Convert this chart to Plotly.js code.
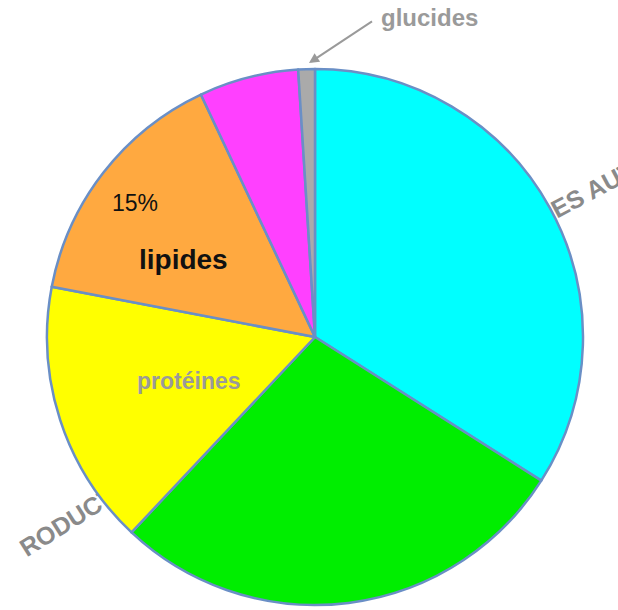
<!DOCTYPE html>
<html><head><meta charset="utf-8">
<script src="https://cdn.plot.ly/plotly-3.0.1.min.js"></script>
<style>html,body{margin:0;padding:0;background:#fff}#c{width:618px;height:610px}</style>
</head><body><div id="c"></div>
<script>
const labels = ["autres", "vert", "protéines", "lipides", "rose", "glucides"];
const values = [34, 28, 16, 15, 6, 1];
const colors = ["#00FFFF", "#00EE00", "#FFFF00", "#FFA940", "#FF40FF", "#AAAAAA"];
const watermarkLeft = "RODUCTION";
const watermarkRight = "DES AUT";

const W = 618, H = 610;
const px = x => x / W, py = y => 1 - y / H;

const data = [{
  type: "pie",
  labels: labels,
  values: values,
  sort: false,
  direction: "clockwise",
  rotation: 0,
  textinfo: "none",
  hoverinfo: "label+percent",
  marker: {colors: colors, line: {color: "#6A8FC6", width: 2.5}},
  domain: {x: [px(47), px(583)], y: [py(605), py(69)]},
  showlegend: false
}];

const font = "Liberation Sans, Arial, Helvetica, sans-serif";
function wm(text, cx, cy, ang) {
  return {type: "rect", xref: "paper", yref: "paper", layer: "below",
    x0: px(cx - 20), x1: px(cx + 20), y0: py(cy + 20), y1: py(cy - 20),
    line: {width: 0}, fillcolor: "rgba(0,0,0,0)",
    label: {text: text, textangle: ang, textposition: "middle center",
      font: {family: font, size: 25, weight: "bold", color: "#8A8A8A"}}};
}
const layout = {
  width: W, height: H,
  margin: {l: 0, r: 0, t: 0, b: 0},
  paper_bgcolor: "#fff",
  showlegend: false,
  shapes: [wm(watermarkLeft, 85, 508, -32), wm(watermarkRight, 584, 192, -28)],
  annotations: [
    {xref: "paper", yref: "paper", x: px(135), y: py(203), xanchor: "center", yanchor: "middle",
     text: "15%", showarrow: false, font: {family: font, size: 23, color: "#111"}},
    {xref: "paper", yref: "paper", x: px(183), y: py(259), xanchor: "center", yanchor: "middle",
     text: "<b>lipides</b>", showarrow: false, font: {family: font, size: 28, color: "#111"}},
    {xref: "paper", yref: "paper", x: px(189), y: py(381), xanchor: "center", yanchor: "middle",
     text: "<b>protéines</b>", showarrow: false, font: {family: font, size: 23, color: "#9A9A9A"}},
    {xref: "paper", yref: "paper", x: px(429), y: py(18), xanchor: "center", yanchor: "middle",
     text: "<b>glucides</b>", showarrow: false, font: {family: font, size: 24, color: "#9A9A9A"}},
    {xref: "paper", yref: "paper", x: px(309), y: py(63), ax: 65, ay: -43,
     text: " ", showarrow: true, arrowhead: 2, arrowsize: 1, arrowwidth: 2,
     arrowcolor: "#9A9A9A", font: {family: font, size: 2, color: "#9A9A9A"}}
  ]
};
Plotly.newPlot("c", data, layout, {displayModeBar: false, staticPlot: true});
</script></body></html>
